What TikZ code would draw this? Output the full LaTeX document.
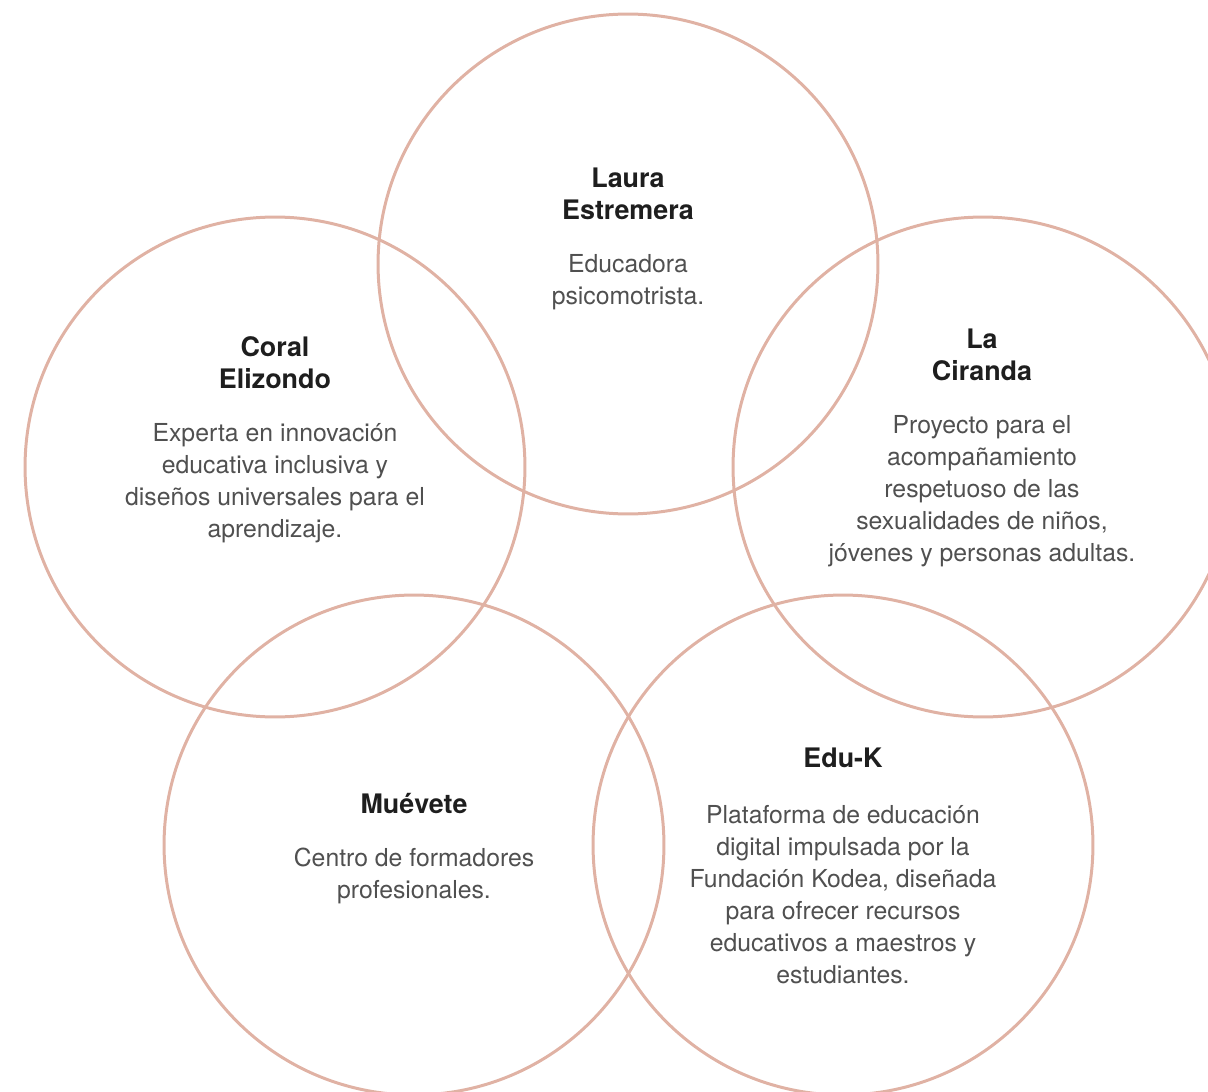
\documentclass[tikz,border=0pt]{standalone}
\usepackage{fontspec}
\setmainfont{TeX Gyre Heros}
\usetikzlibrary{positioning}

\definecolor{ring}{RGB}{224,178,164}
\definecolor{titlegray}{RGB}{30,30,30}
\definecolor{descgray}{RGB}{80,80,80}

\begin{document}
\begin{tikzpicture}[
    x=0.02cm, y=-0.02cm,
    ring/.style={draw=ring, line width=0.06cm, circle, minimum size=10cm, inner sep=0pt},
    title/.style={font=\fontsize{15.3}{18.2}\selectfont\bfseries, text=titlegray, align=center, inner sep=0pt},
    desc/.style={font=\fontsize{14.1}{18.2}\selectfont, text=descgray, align=center, inner sep=0pt},
]
\useasboundingbox (0,0) rectangle (1208,1092);
\clip (0,0) rectangle (1208,1092);

% ---- circles ----
\node[ring] (laura)   at (628,264) {};
\node[ring] (coral)   at (275,467) {};
\node[ring] (ciranda) at (983,467) {};
\node[ring] (muevete) at (414,845) {};
\node[ring] (eduk)    at (843,845) {};

% ---- Laura Estremera ----
\node[title] (tlaura) at (628,193.5) {Laura\\Estremera};
\node[desc]  (dlaura) at (628,282) {Educadora\\psicomotrista.};

% ---- Coral Elizondo ----
\node[title] (tcoral) at (275,363) {Coral\\Elizondo};
\node[desc]  (dcoral) at (275,483) {Experta en innovación\\educativa inclusiva y\\diseños universales para el\\aprendizaje.};

% ---- La Ciranda ----
\node[title] (tciranda) at (982,355) {La\\Ciranda};
\node[desc]  (dciranda) at (982,491) {Proyecto para el\\acompañamiento\\respetuoso de las\\sexualidades de niños,\\jóvenes y personas adultas.};

% ---- Muévete ----
\node[title] (tmuevete) at (414,804) {Muévete};
\node[desc]  (dmuevete) at (414,876) {Centro de formadores\\profesionales.};

% ---- Edu-K ----
\node[title] (teduk) at (843,758) {Edu-K};
\node[desc]  (deduk) at (843,895) {Plataforma de educación\\digital impulsada por la\\Fundación Kodea, diseñada\\para ofrecer recursos\\educativos a maestros y\\estudiantes.};
\end{tikzpicture}
\end{document}
